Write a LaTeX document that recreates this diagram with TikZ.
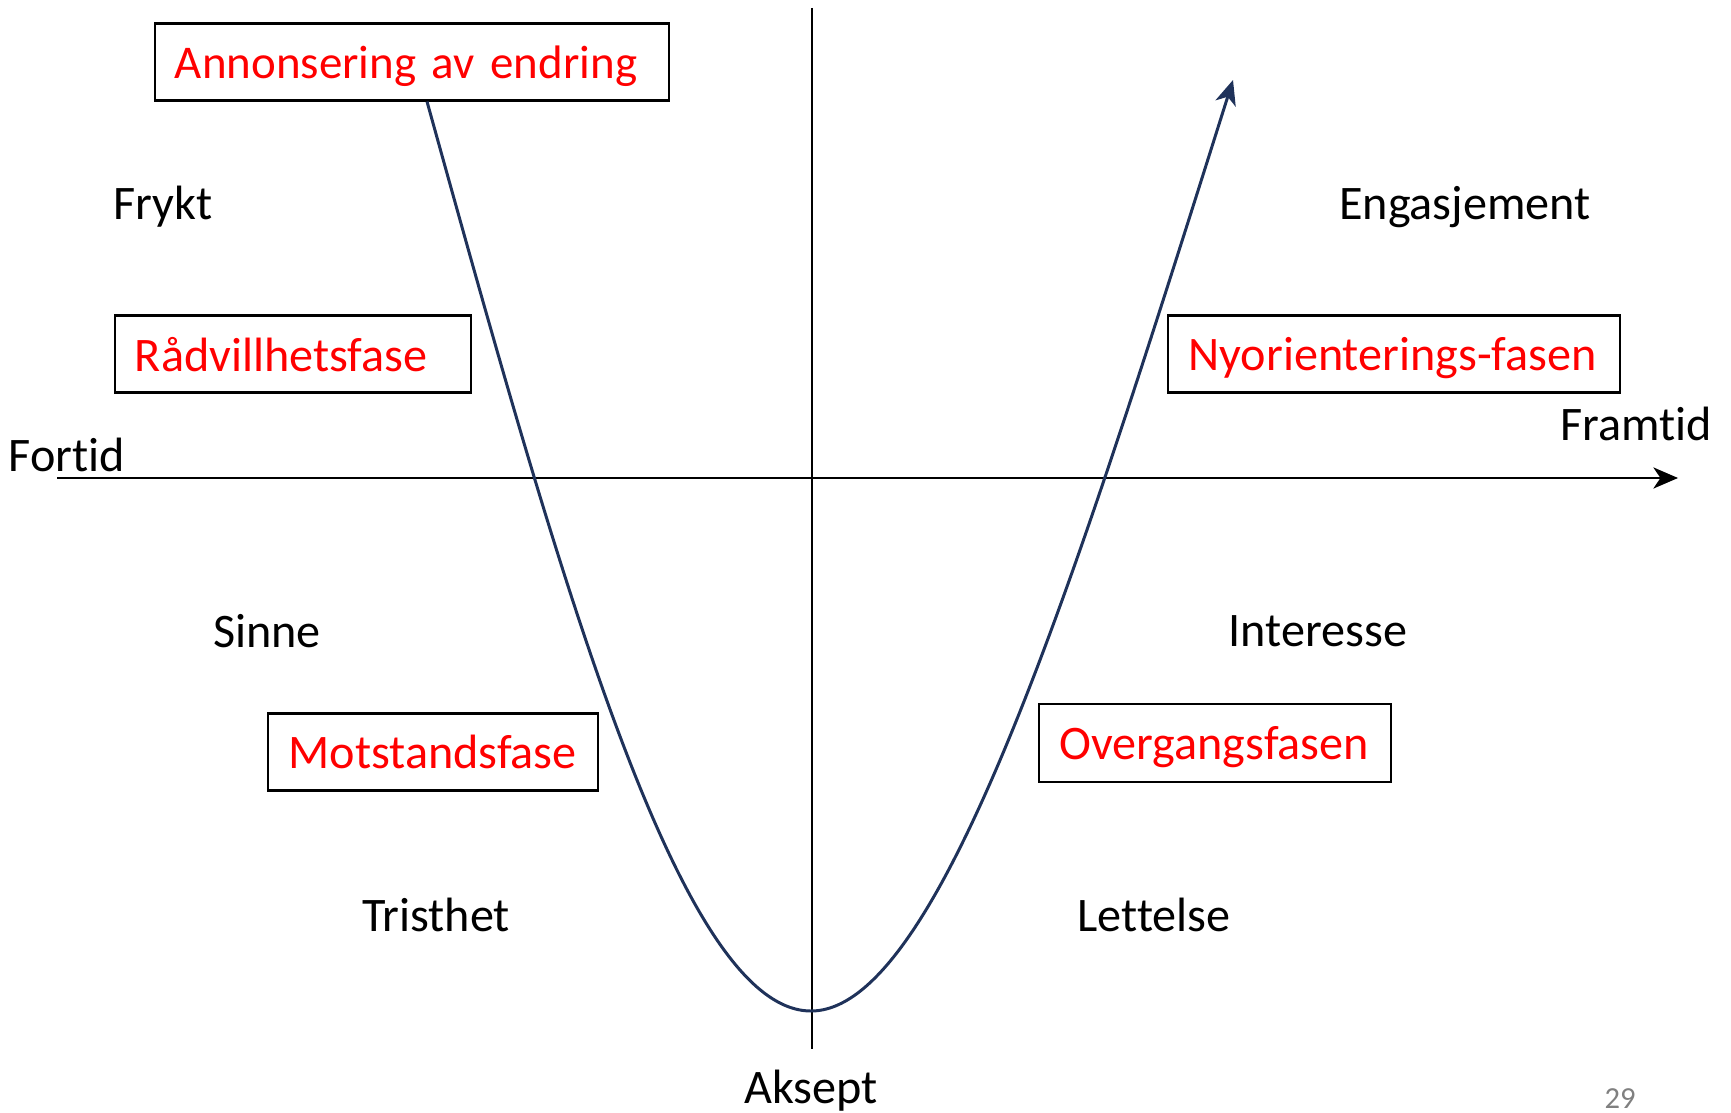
\documentclass[tikz,border=0pt]{standalone}
\usepackage{fontspec}
\setmainfont{Carlito}[Ligatures=NoCommon]
\usetikzlibrary{arrows.meta,positioning}
\definecolor{kurveblaa}{RGB}{31,50,90}
\definecolor{fasered}{RGB}{255,0,0}

\begin{document}
\begin{tikzpicture}[x=0.01cm,y=-0.01cm,>={Stealth[length=7pt,width=6pt,inset=2pt]}]
\tikzstyle{fase}=[draw, line width=0.6pt, rectangle, text=fasered, align=left,
inner xsep=0.2cm, inner ysep=0pt, minimum height=0.77cm, text depth=0pt,
font=\fontsize{13.7}{16}\selectfont]
\tikzstyle{kjensle}=[font=\fontsize{13.7}{16}\selectfont]
\useasboundingbox (0,0) rectangle (1731,1113);

% axes
\coordinate (vtop) at (812,8);
\coordinate (vbunn) at (812,1049);
\coordinate (hstart) at (57,478);
\coordinate (hslutt) at (1678,478);
\draw[line width=0.45pt] (vtop) -- (vbunn);
\draw[->,line width=0.7pt] (hstart) -- (hslutt);

% phases
\node[fase, text width=4.74cm, font=\fontsize{13.35}{16}\selectfont] (annons) at (412,62)
  {\mbox{Annonsering av endring}};
\node[fase, text width=3.16cm] (raadvill) at (293,354) {R\aa dvillhetsfase};
\node[fase, text width=4.11cm] (nyori) at (1394,354) {Nyorienterings-fasen};
\node[fase, text width=2.89cm] (motstand) at (433,752) {Motstandsfase};
\node[fase, text width=3.11cm, minimum height=0.78cm] (overgang) at (1215,743) {Overgangsfasen};

% feelings
\node[kjensle] (frykt) at (163,207) {Frykt};
\node[kjensle] (engasj) at (1465,207) {Engasjement};
\node[kjensle] (sinne) at (267,631) {Sinne};
\node[kjensle] (interesse) at (1318,631) {Interesse};
\node[kjensle] (tristhet) at (436,915) {Tristhet};
\node[kjensle] (lettelse) at (1154,915) {Lettelse};
\node[kjensle] (fortid) at (67,455) {Fortid};
\node[kjensle] (framtid) at (1636,424) {Framtid};
\node[kjensle] (aksept) at (811,1091) {Aksept};
\node[text=gray, font=\fontsize{8.7}{10}\selectfont] (sidenr) at (1620,1099) {29};

% change curve
\coordinate (bunn) at (811,1011);
\coordinate (pil) at (1233,80);
\draw[->,kurveblaa,line width=0.85pt] ([xshift=0.15cm]annons.south)
  .. controls (560,580) and (680,1011) .. (bunn)
  .. controls (940,1011) and (1075,580) .. (pil);

\end{tikzpicture}
\end{document}
